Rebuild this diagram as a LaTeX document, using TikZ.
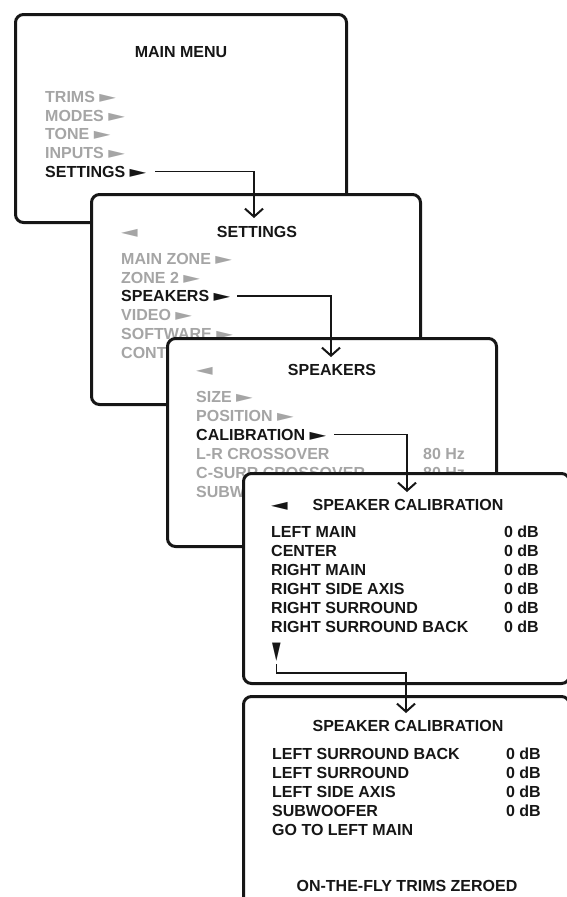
\documentclass[tikz,border=0pt]{standalone}
\usepackage{fontspec}
\setmainfont{Liberation Sans}
\newfontfamily\symf{DejaVu Sans}
\usetikzlibrary{arrows.meta,calc}
\definecolor{dim}{RGB}{165,165,165}
\definecolor{ink}{RGB}{22,22,22}
\newcommand{\ptr}{{\symf\fontsize{16}{16}\selectfont\scalebox{1.35}[1]{►}}}
\newcommand{\lptr}{{\symf\fontsize{16}{16}\selectfont\scalebox{1.35}[1]{◄}}}
\newcommand{\dptr}{{\symf\fontsize{16}{16}\selectfont\scalebox{0.7}[1.5]{▼}}}
\tikzset{
 menubox/.style={draw=ink, line width=3pt, fill=white, rounded corners=8pt, anchor=north west, inner sep=0pt},
 txt/.style={inner sep=0pt, text height=11.5pt, text depth=0pt, font=\fontsize{16}{19}\selectfont\bfseries, anchor=west},
 off/.style={txt, text=dim},
 on/.style={txt, text=ink},
 ttl/.style={txt, text=ink, anchor=center},
 val/.style={txt, text=ink, anchor=east},
 offval/.style={txt, text=dim},
 conn/.style={draw=ink, line width=1.7pt, -{Straight Barb[length=8pt,width=18pt,line width=2pt]}},
}
\begin{document}
\begin{tikzpicture}[x=1pt,y=-1pt]
\useasboundingbox (0,0) rectangle (567,897);
\clip (0,0) rectangle (567,897);
% ---------- box 1
\node[menubox, minimum width=331pt, minimum height=208pt] (b1) at (14,13) {};
\node[ttl] (t1) at (181,52) {MAIN MENU};
\node[off] (m1) at (45,96.5) {TRIMS \ptr};
\node[off] (m2) at (45,115.3) {MODES \ptr};
\node[off] (m3) at (45,134) {TONE \ptr};
\node[off] (m4) at (45,152.8) {INPUTS \ptr};
\node[on]  (m5) at (45,171.5) {SETTINGS \ptr};
% ---------- box 2
\node[menubox, minimum width=329pt, minimum height=210pt] (b2) at (90,193) {};
\node[txt, text=dim] (l2) at (121,232) {\lptr};
\node[ttl] (t2) at (257,232) {SETTINGS};
\node[off] (n1) at (121,259) {MAIN ZONE \ptr};
\node[off] (n2) at (121,277.5) {ZONE 2 \ptr};
\node[on]  (n3) at (121,296) {SPEAKERS \ptr};
\node[off] (n4) at (121,315) {VIDEO \ptr};
\node[off] (n5) at (121,334) {SOFTWARE \ptr};
\node[off] (n6) at (121,353) {CONT};
\coordinate (s1) at (155,171.5);
\coordinate (e1) at (254,218);
\draw[conn] (s1) -| (e1);
% ---------- box 3
\node[menubox, minimum width=329pt, minimum height=208pt] (b3) at (166,337) {};
\node[txt, text=dim] (l3) at (196,370) {\lptr};
\node[ttl] (t3) at (332,370) {SPEAKERS};
\node[off] (p1) at (196,397) {SIZE \ptr};
\node[off] (p2) at (196,416) {POSITION \ptr};
\node[on]  (p3) at (196,434.5) {CALIBRATION \ptr};
\node[off] (p4) at (196,453.5) {L-R CROSSOVER};
\node[offval] (v4) at (423,453.5) {80 Hz};
\node[off] (p5) at (196,472.5) {C-SURR CROSSOVER};
\node[offval] (v5) at (423,472.5) {80 Hz};
\node[off] (p6) at (196,491.5) {SUBW};
\coordinate (s2) at (237,296);
\coordinate (e2) at (331,357);
\draw[conn] (s2) -| (e2);
% ---------- box 4
\node[menubox, minimum width=326pt, minimum height=210pt] (b4) at (242,472) {};
\node[txt, text=ink] (l4) at (271,505) {\lptr};
\node[ttl] (t4) at (408,505) {SPEAKER CALIBRATION};
\node[on] (q1) at (271,532) {LEFT MAIN};
\node[on] (q2) at (271,551) {CENTER};
\node[on] (q3) at (271,570) {RIGHT MAIN};
\node[on] (q4) at (271,589) {RIGHT SIDE AXIS};
\node[on] (q5) at (271,608) {RIGHT SURROUND};
\node[on] (q6) at (271,627) {RIGHT SURROUND BACK};
\foreach \yy/\nm in {532/w1,551/w2,570/w3,589/w4,608/w5,627/w6}
  \node[val] (\nm) at (539,\yy) {0 dB};
\node[txt, text=ink, anchor=center] (d4) at (276.5,653) {\dptr};
\coordinate (s3) at (334,434.5);
\coordinate (e3) at (407,492);
\draw[conn] (s3) -| (e3);
% ---------- box 5
\node[menubox, minimum width=326pt, minimum height=230pt] (b5) at (242,695) {};
\node[ttl] (t5) at (408,726) {SPEAKER CALIBRATION};
\node[on] (r1) at (272,754) {LEFT SURROUND BACK};
\node[on] (r2) at (272,773) {LEFT SURROUND};
\node[on] (r3) at (272,792) {LEFT SIDE AXIS};
\node[on] (r4) at (272,811) {SUBWOOFER};
\node[on] (r5) at (272,830) {GO TO LEFT MAIN};
\foreach \yy/\nm in {754/u1,773/u2,792/u3,811/u4}
  \node[val] (\nm) at (541,\yy) {0 dB};
\node[ttl] (z5) at (407,886) {ON-THE-FLY TRIMS ZEROED};
\coordinate (s4) at (276.5,664);
\coordinate (k4) at (406,673);
\coordinate (e4) at (406,713);
\draw[conn] (s4) |- (k4) -- (e4);
\end{tikzpicture}
\end{document}
